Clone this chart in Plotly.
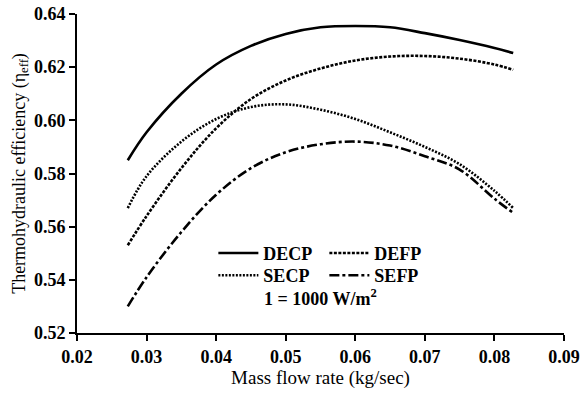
import plotly.graph_objects as go

# Mass flow rate (kg/sec)
x_vals = [0.0273, 0.030, 0.035, 0.040, 0.045, 0.050, 0.055, 0.060, 0.065, 0.070, 0.075, 0.080, 0.0827]

decp = [0.585, 0.5955, 0.6100, 0.6210, 0.6280, 0.6325, 0.6350, 0.6355, 0.6350, 0.6328, 0.6302, 0.6272, 0.6253]
defp = [0.553, 0.5640, 0.5820, 0.5970, 0.6080, 0.6150, 0.6195, 0.6225, 0.6240, 0.6242, 0.6232, 0.6210, 0.6190]
secp = [0.567, 0.5790, 0.5920, 0.6005, 0.6050, 0.6060, 0.6040, 0.6005, 0.5955, 0.5900, 0.5835, 0.5735, 0.5670]
sefp = [0.530, 0.5410, 0.5580, 0.5720, 0.5820, 0.5880, 0.5910, 0.5920, 0.5905, 0.5865, 0.5815, 0.5705, 0.5652]

series_names = ["DECP", "DEFP", "SECP", "SEFP"]
x_ticks = [0.02, 0.03, 0.04, 0.05, 0.06, 0.07, 0.08, 0.09]
y_ticks = [0.52, 0.54, 0.56, 0.58, 0.60, 0.62, 0.64]

FONT = "Liberation Serif, Times New Roman, serif"

styles = {
    "DECP": dict(dash="solid", width=2.6, legend="legend"),
    "DEFP": dict(dash="3px,1.5px", width=2.6, legend="legend"),
    "SECP": dict(dash="2px,1.5px", width=2.6, legend="legend2"),
    "SEFP": dict(dash="10px,3px,3px,3px", width=2.6, legend="legend2"),
}

fig = go.Figure()
for name, ys in zip(series_names, [decp, defp, secp, sefp]):
    st = styles[name]
    fig.add_trace(go.Scatter(
        x=x_vals, y=ys, mode="lines", name=f"<b>{name}</b>",
        line=dict(color="black", width=st["width"], dash=st["dash"], shape="spline", smoothing=1.0),
        legend=st["legend"],
    ))

legend_common = dict(
    orientation="h", xanchor="left", yanchor="middle",
    font=dict(family=FONT, size=18, color="black"),
    bgcolor="rgba(0,0,0,0)", borderwidth=0,
    entrywidth=56, entrywidthmode="pixels",
    itemwidth=40, tracegroupgap=0,
)

fig.update_layout(
    width=582, height=396,
    margin=dict(l=77, r=18, t=14, b=63),
    paper_bgcolor="white", plot_bgcolor="white",
    font=dict(family=FONT, color="black"),
    showlegend=True,
    legend=dict(x=0.28, y=0.25, **legend_common),
    legend2=dict(x=0.28, y=0.18, **legend_common),
    xaxis=dict(
        range=[0.02, 0.09], tickvals=x_ticks, ticktext=[f"<b>{v:.2f}</b>" for v in x_ticks],
        showgrid=False, zeroline=False, showline=True, linecolor="black", linewidth=2,
        ticks="outside", ticklen=6, tickwidth=2, tickcolor="black", automargin=False,
        tickfont=dict(family=FONT, size=18, color="black"),
        title=dict(text="Mass flow rate (kg/sec)", font=dict(family=FONT, size=19, color="black"), standoff=4),
    ),
    yaxis=dict(
        range=[0.52, 0.64], tickvals=y_ticks, ticktext=[f"<b>{v:.2f}</b>" for v in y_ticks],
        showgrid=False, zeroline=False, showline=True, linecolor="black", linewidth=2,
        ticks="outside", ticklen=6, tickwidth=2, tickcolor="black", automargin=False,
        tickfont=dict(family=FONT, size=18, color="black"),
        title=dict(text="Thermohydraulic efficiency (η<sub>eff</sub>)", font=dict(family=FONT, size=18, color="black"), standoff=4),
    ),
    annotations=[dict(
        text="<b>1 = 1000 W/m<sup>2</sup></b>", x=0.38, y=0.11, xref="paper", yref="paper",
        xanchor="left", yanchor="middle", showarrow=False,
        font=dict(family=FONT, size=18, color="black"),
    )],
)

fig.write_html(
    "out.html",
    config={"displayModeBar": False},
    post_script="document.body.style.margin='0';document.body.style.overflow='hidden';",
)
